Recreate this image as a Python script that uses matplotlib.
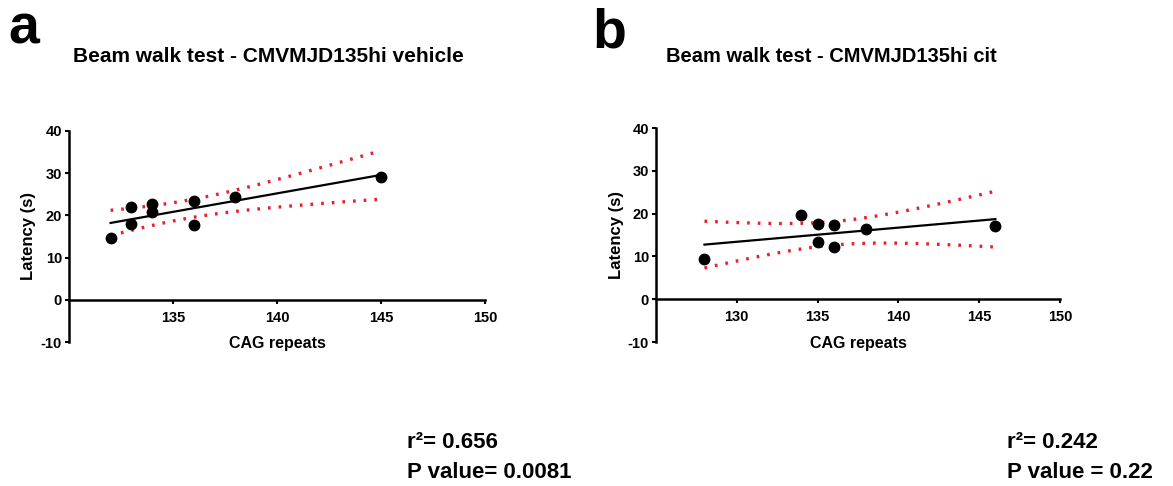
import numpy as np
import matplotlib
matplotlib.use('Agg')
import matplotlib.pyplot as plt

plt.rcParams['font.family'] = ['Liberation Sans', 'DejaVu Sans']
plt.rcParams['font.weight'] = 'bold'
plt.rcParams['axes.unicode_minus'] = False

# CAG repeat length vs. beam walk latency
veh_cag = [132, 133, 133, 134, 134, 136, 136, 138, 145]
veh_lat = [14.6, 22.0, 18.0, 22.8, 20.7, 23.5, 17.7, 24.3, 29.2]
cit_cag = [128, 134, 135, 135, 136, 136, 138, 146]
cit_lat = [9.5, 19.7, 17.5, 13.4, 17.4, 12.2, 16.4, 17.1]

titles = ['Beam walk test - CMVMJD135hi vehicle',
          'Beam walk test - CMVMJD135hi cit']
letters = ['a', 'b']
stats = [('r\u00b2= 0.656', 'P value= 0.0081'),
         ('r\u00b2= 0.242', 'P value = 0.22')]
xlims = [(130, 150), (125, 150)]
xticks = [[135, 140, 145, 150], [130, 135, 140, 145, 150]]
yticks = [-10, 0, 10, 20, 30, 40]

# two-sided 95% t critical values by degrees of freedom
t_crit = {6: 2.447, 7: 2.365}


def fit_with_ci(x, y):
    x = np.asarray(x, float)
    y = np.asarray(y, float)
    n = len(x)
    slope, icpt = np.polyfit(x, y, 1)
    res = y - (slope * x + icpt)
    s = np.sqrt(np.sum(res ** 2) / (n - 2))
    sxx = np.sum((x - x.mean()) ** 2)
    xs = np.linspace(x.min(), x.max(), 100)
    ys = slope * xs + icpt
    hw = t_crit[n - 2] * s * np.sqrt(1.0 / n + (xs - x.mean()) ** 2 / sxx)
    return xs, ys, ys - hw, ys + hw


fig = plt.figure(figsize=(11.73, 4.86), dpi=100)
W, H = 1173.0, 486.0
boxes = [(69, 131, 485, 342), (656, 128, 1060, 342)]
title_pos = [(268, 57, 15), (831, 57, 14.5)]
letter_pos = [(8, 43), (592, 47)]
stat_pos = [(407, 442, 472), (1007, 442, 472)]
data = [(veh_cag, veh_lat), (cit_cag, cit_lat)]

for i in range(2):
    l, t, r, b = boxes[i]
    ax = fig.add_axes([l / W, 1 - b / H, (r - l) / W, (b - t) / H])
    x, y = data[i]
    xs, ys, lo, hi = fit_with_ci(x, y)
    ax.plot(xs, lo, color='#e8202a', lw=2.4, linestyle=(0, (0.8, 2.4)))
    ax.plot(xs, hi, color='#e8202a', lw=2.4, linestyle=(0, (0.8, 2.4)))
    ax.plot(xs, ys, color='black', lw=1.6)
    ax.plot(x, y, 'o', color='black', markersize=7.5, zorder=5)

    ax.set_xlim(*xlims[i])
    ax.set_ylim(-10, 40)
    ax.set_xticks(xticks[i])
    ax.set_yticks(yticks)
    for sp in ['top', 'right']:
        ax.spines[sp].set_visible(False)
    ax.spines['bottom'].set_position(('data', 0))
    ax.spines['left'].set_linewidth(1.8)
    ax.spines['bottom'].set_linewidth(1.8)
    ax.tick_params(width=1.5, length=3, labelsize=10.5)
    ax.tick_params(axis='x', pad=5)
    ax.tick_params(axis='y', pad=2)
    for lab in ax.get_xticklabels() + ax.get_yticklabels():
        lab.set_fontweight('bold')

    ax.set_xlabel('CAG repeats', fontsize=11.5, fontweight='bold')
    ax.xaxis.set_label_coords(0.5, 0.03)
    ax.set_ylabel('Latency (s)', fontsize=12, fontweight='bold')
    ax.yaxis.set_label_coords(-0.08, 0.5)

    tx, ty, tsize = title_pos[i]
    fig.text(tx / W, 1 - ty / H, titles[i], ha='center', va='center',
             fontsize=tsize, fontweight='bold')
    lx, ly = letter_pos[i]
    fig.text(lx / W, 1 - ly / H, letters[i], ha='left', va='baseline',
             fontsize=40, fontweight='bold')
    sx, sy1, sy2 = stat_pos[i]
    fig.text(sx / W, 1 - sy1 / H, stats[i][0], ha='left', va='center',
             fontsize=16, fontweight='bold')
    fig.text(sx / W, 1 - sy2 / H, stats[i][1], ha='left', va='center',
             fontsize=16, fontweight='bold')

fig.savefig('out.png', dpi=100, facecolor='white')
